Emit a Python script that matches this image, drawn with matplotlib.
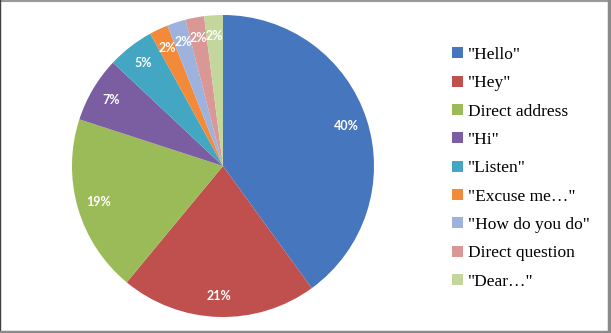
import matplotlib.pyplot as plt
from matplotlib.lines import Line2D
from matplotlib.patches import Patch

# data
labels = ['"Hello"', '"Hey"', 'Direct address', '"Hi"', '"Listen"',
          '"Excuse me\u2026"', '"How do you do"', 'Direct question', '"Dear\u2026"']
values = [40, 21, 19, 7, 5, 2, 2, 2, 2]
colors = ['#4677BE', '#C0504D', '#9BBB59', '#7B5EA2', '#43A6C2',
          '#F38A3A', '#9DB3DE', '#D99795', '#C3D69B']

fig = plt.figure(figsize=(6.11, 3.33), dpi=100)
ax = fig.add_axes([0.1178, 0.048, 0.4943, 0.907])

wedges, texts, autotexts = ax.pie(values, colors=colors, startangle=90, counterclock=False,
                                  autopct='%d%%', pctdistance=0.86, radius=1,
                                  textprops=dict(color='white', fontsize=9, fontweight='bold',
                                                 family='Lato'))
ax.set_xlim(-1, 1)
ax.set_ylim(-1, 1)
ax.set_aspect('equal')

# legend
handles = [Patch(facecolor=c, edgecolor='none') for c in colors]
fig.legend(handles, labels, loc='upper left', bbox_to_anchor=(0.729, 0.88),
           frameon=False, prop=dict(family='Liberation Serif', size=12.5),
           handlelength=0.6, handleheight=0.6, handletextpad=0.3,
           labelspacing=0.71, borderaxespad=0)

# frame around the chart
fig.add_artist(Line2D([0, 1], [0.998, 0.998], color='#9a9a9a', lw=1.5, transform=fig.transFigure))
fig.add_artist(Line2D([0.0008, 0.0008], [0, 1], color='#404040', lw=1, transform=fig.transFigure))
fig.add_artist(Line2D([0.997, 0.997], [0, 1], color='#8a8a8a', lw=2.5, transform=fig.transFigure))
fig.add_artist(Line2D([0, 1], [0.004, 0.004], color='#8a8a8a', lw=2.5, transform=fig.transFigure))

fig.savefig('out.png', dpi=100)
